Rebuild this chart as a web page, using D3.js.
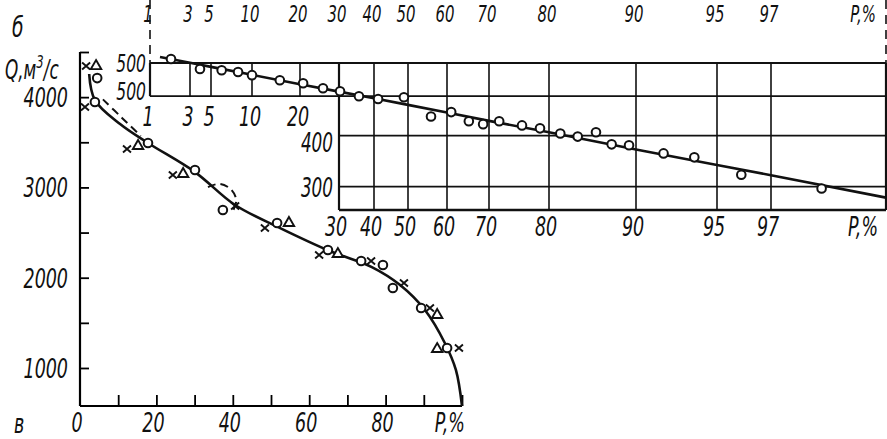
<!DOCTYPE html>
<html>
<head>
<meta charset="utf-8">
<script src="https://cdn.jsdelivr.net/npm/d3@7"></script>
<style>
  html, body { margin: 0; padding: 0; background: #fff; }
  svg { display: block; }
  text { font-family: "DejaVu Sans Condensed", "DejaVu Sans", sans-serif; font-style: italic; fill: #111; }
</style>
</head>
<body>
<div id="chart"></div>
<script>
  const W = 887, H = 439;

  // ---- panel б : probability paper, log Q ----
  const probGrid = [1, 3, 5, 10, 20, 30, 40, 50, 60, 70, 80, 90, 95, 97];
  const probStrip = [1, 3, 5, 10, 20];          // labelled under the narrow strip
  const probMain = [30, 40, 50, 60, 70, 80, 90, 95, 97];
  const qTicksTop = [600, 500, 400, 300];
  const qTickLabelsTop = ["500", "500", "400", "300"];

  // observed points [P %, Q m3/s]
  const topCircles = [
    [2.05, 617], [3.95, 583], [6.3, 579], [8.3, 573], [10, 563], [15.8, 547],
    [20.8, 538], [25.9, 523], [30.3, 514], [35.7, 500], [41.2, 492], [48.8, 497],
    [55.9, 446], [61, 457], [65.2, 434], [68.6, 427], [71.7, 434], [75.5, 424],
    [78.5, 417], [81.3, 405], [83.3, 398], [85.4, 408], [87.2, 381], [89.2, 379],
    [91.7, 362], [93.6, 354], [95.9, 321], [98.1, 297]
  ];
  // fitted line
  const topFit = [
    [1.5, 624], [3, 604], [5, 590], [10, 564], [20, 535], [30, 513], [40, 494],
    [50, 476], [60, 456], [70, 435], [80, 408], [90, 370], [95, 339], [97, 320], [99.5, 282]
  ];

  // ---- panel в : linear axes ----
  const lowXTicks = d3.range(10, 101, 10);
  const lowXLabels = [0, 20, 40, 60, 80];
  const lowYTicks = d3.range(1000, 4501, 500);
  const lowYLabels = [1000, 2000, 3000, 4000];

  const lowCircles = [
    [4.5, 4211], [3.9, 3946], [17.8, 3492], [30.1, 3193], [37.4, 2750], [51.6, 2606],
    [64.9, 2307], [73.6, 2185], [79.3, 2141], [81.9, 1886], [89.3, 1664], [96.1, 1221]
  ];
  const lowTriangles = [
    [4.2, 4355], [15.2, 3470], [27.0, 3160], [54.7, 2617], [67.5, 2273], [93.5, 1598], [93.5, 1221]
  ];
  const lowCrosses = [
    [1.6, 4344], [1.3, 3890], [12.3, 3425], [24.3, 3137], [40.6, 2794], [48.4, 2550],
    [62.6, 2251], [76.2, 2185], [84.8, 1941], [91.6, 1664], [99.2, 1221]
  ];
  const lowCurve = [
    [2.4, 4256], [3.9, 3968], [10.5, 3702], [17.8, 3492], [30.1, 3170], [40.6, 2805],
    [52.4, 2550], [65.4, 2296], [76.4, 2118], [83.8, 1919], [90.3, 1642], [95.5, 1277],
    [98.4, 978], [100, 579]
  ];
  const lowDash1 = [[6.0, 3975], [11, 3770], [15.9, 3570]];
  const lowDash2 = [[33.5, 3004], [36.6, 3040], [39.6, 2975], [40.9, 2860], [40.1, 2745]];

  const svg = d3.select("#chart").append("svg").attr("width", W).attr("height", H);
  const ink = "#111";

  // narrow italic lettering like the drafting font of the original
  function label(g, x, y, s, anchor = "middle", size = 27) {
    return g.append("text")
      .attr("transform", `translate(${x},${y}) scale(0.72,1)`)
      .attr("text-anchor", anchor).attr("font-size", size).text(s);
  }

  // ---------- panel б ----------
  // probability scale is not a plain formula, so use the printed grid positions
  const px = d3.scaleLinear()
    .domain([1, 3, 5, 10, 20, 30, 40, 50, 60, 70, 80, 90, 95, 97, 99.5])
    .range([150, 190, 211, 252, 300, 339, 374, 408, 447, 489, 549, 636, 717, 771, 886]);
  const py = d3.scaleLog().domain([263, 603]).range([210, 63]);

  const gTop = svg.append("g");
  const qTop = 603, qBot = 263, pEnd = 99.5;

  // horizontal lines
  gTop.selectAll("line.h").data(qTicksTop).join("line")
    .attr("x1", d => d >= 500 ? px(1) : px(30)).attr("x2", px(pEnd))
    .attr("y1", d => py(d === 600 ? qTop : d)).attr("y2", d => py(d === 600 ? qTop : d))
    .attr("stroke", ink).attr("stroke-width", d => d === 600 ? 2.2 : 1.7);
  gTop.append("line").attr("x1", px(30)).attr("x2", px(pEnd))
    .attr("y1", py(qBot)).attr("y2", py(qBot)).attr("stroke", ink).attr("stroke-width", 2.4);

  // vertical lines
  gTop.selectAll("line.v").data(probGrid.concat([pEnd])).join("line")
    .attr("x1", d => px(d)).attr("x2", d => px(d))
    .attr("y1", py(qTop)).attr("y2", d => d < 30 ? py(500) : py(qBot))
    .attr("stroke", ink).attr("stroke-width", d => (d === 1 || d === 30 || d === pEnd) ? 2.2 : 1.6);

  // dashed extension lines to the upper scale
  [1, pEnd].forEach(p => {
    gTop.append("line").attr("x1", px(p)).attr("x2", px(p))
      .attr("y1", 0).attr("y2", py(qTop))
      .attr("stroke", ink).attr("stroke-width", 1.6).attr("stroke-dasharray", "9,6");
  });

  // Q labels
  qTicksTop.forEach((d, i) => {
    const x = d >= 500 ? px(1) - 4 : px(30) - 6;
    const y = py(d === 600 ? qTop : d) + [9, 4, 16, 10][i];
    label(gTop, x, y, qTickLabelsTop[i], "end", d >= 500 ? 24 : 26);
  });

  // P labels: top row, under the strip, under the main box
  probGrid.forEach(d => label(gTop, px(d) - 2, 22, d, "middle", 23));
  label(gTop, px(99), 22, "P,%", "middle", 23);
  probStrip.forEach(d => label(gTop, px(d) - 2, 126, d));
  probMain.forEach(d => label(gTop, px(d) - 3, 236, d));
  label(gTop, px(99), 236, "P,%");

  // fitted line and points
  gTop.append("path").datum(topFit)
    .attr("d", d3.line().x(d => px(d[0])).y(d => py(d[1])))
    .attr("fill", "none").attr("stroke", ink).attr("stroke-width", 2.6);
  gTop.selectAll("circle").data(topCircles).join("circle")
    .attr("cx", d => px(d[0])).attr("cy", d => py(d[1])).attr("r", 4.3)
    .attr("fill", "#fff").attr("stroke", ink).attr("stroke-width", 2);

  // ---------- panel в ----------
  const lx = d3.scaleLinear().domain([0, 100]).range([80, 462]);
  const ly = d3.scaleLinear().domain([579, 4500]).range([406, 52]);
  const gLow = svg.append("g");

  const xAxis = d3.axisBottom(lx).tickValues(lowXTicks).tickSize(-11).tickFormat("");
  gLow.append("g").attr("transform", `translate(0,${ly(579)})`).call(xAxis)
    .call(g => g.select(".domain").attr("d", `M${lx(0)},0H${lx(100)}`).attr("stroke-width", 2.2))
    .call(g => g.selectAll(".tick line").attr("stroke-width", 1.8));

  const yAxis = d3.axisLeft(ly).tickValues(lowYTicks).tickSize(-9).tickFormat("");
  gLow.append("g").attr("transform", `translate(${lx(0)},0)`).call(yAxis)
    .call(g => g.select(".domain").attr("d", `M0,${ly(579)}V${ly(4500)}`).attr("stroke-width", 2.2))
    .call(g => g.selectAll(".tick line").attr("stroke-width", 1.8));

  lowXLabels.forEach(d => label(gLow, lx(d) - 3, 432, d));
  label(gLow, lx(96.8), 432, "P,%");
  lowYLabels.forEach(d => label(gLow, 68, ly(d) + 10, d, "end"));

  // axis title and panel letters
  const qt = svg.append("text").attr("transform", "translate(5,79) scale(0.72,1)").attr("font-size", 26);
  qt.append("tspan").text("Q,м");
  qt.append("tspan").attr("dy", -11).attr("font-size", 18).text("3");
  qt.append("tspan").attr("dy", 11).text("/с");
  label(svg, 12, 37, "б", "start", 29);
  label(svg, 14, 433, "в", "start", 27);

  const lineGen = d3.line().x(d => lx(d[0])).y(d => ly(d[1]));
  gLow.append("path").datum(lowCurve)
    .attr("d", lineGen.curve(d3.curveCatmullRom.alpha(0.5)))
    .attr("fill", "none").attr("stroke", ink).attr("stroke-width", 2.6);
  [lowDash1, lowDash2].forEach(pts => {
    gLow.append("path").datum(pts)
      .attr("d", d3.line().x(d => lx(d[0])).y(d => ly(d[1])).curve(d3.curveCatmullRom)(pts))
      .attr("fill", "none").attr("stroke", ink).attr("stroke-width", 2)
      .attr("stroke-dasharray", "8,5");
  });

  gLow.selectAll("circle").data(lowCircles).join("circle")
    .attr("cx", d => lx(d[0])).attr("cy", d => ly(d[1])).attr("r", 4.3)
    .attr("fill", "#fff").attr("stroke", ink).attr("stroke-width", 2);
  gLow.selectAll("path.tri").data(lowTriangles).join("path")
    .attr("class", "tri")
    .attr("transform", d => `translate(${lx(d[0])},${ly(d[1])})`)
    .attr("d", "M0,-5L5.2,4L-5.2,4Z")
    .attr("fill", "#fff").attr("stroke", ink).attr("stroke-width", 1.9);
  gLow.selectAll("path.crs").data(lowCrosses).join("path")
    .attr("class", "crs")
    .attr("transform", d => `translate(${lx(d[0])},${ly(d[1])})`)
    .attr("d", "M-4,-3.5L4,3.5M-4,3.5L4,-3.5")
    .attr("fill", "none").attr("stroke", ink).attr("stroke-width", 1.9);
</script>
</body>
</html>
